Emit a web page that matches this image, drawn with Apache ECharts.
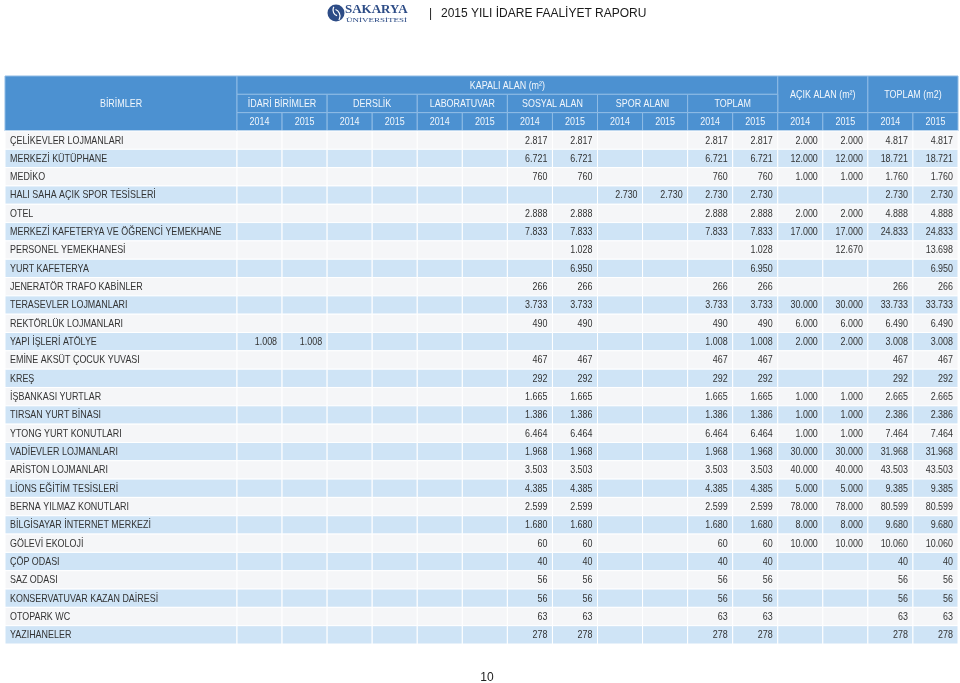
<!DOCTYPE html>
<html>
<head>
<meta charset="utf-8">
<script src="https://cdn.jsdelivr.net/npm/echarts@6.0.0/dist/echarts.min.js"></script>
<style>
html, body { margin: 0; padding: 0; background: #fff; }
#main { width: 960px; height: 683px; }
</style>
</head>
<body>
<div id="main"></div>
<script>
// satir adlari
const rowNames = [
  'ÇELİKEVLER LOJMANLARI', 'MERKEZİ KÜTÜPHANE', 'MEDİKO', 'HALI SAHA AÇIK SPOR TESİSLERİ', 'OTEL',
  'MERKEZİ KAFETERYA VE ÖĞRENCİ YEMEKHANE', 'PERSONEL YEMEKHANESİ', 'YURT KAFETERYA',
  'JENERATÖR TRAFO KABİNLER', 'TERASEVLER LOJMANLARI', 'REKTÖRLÜK LOJMANLARI', 'YAPI İŞLERİ ATÖLYE',
  'EMİNE AKSÜT ÇOCUK YUVASI', 'KREŞ', 'İŞBANKASI YURTLAR', 'TIRSAN YURT BİNASI', 'YTONG YURT KONUTLARI',
  'VADİEVLER LOJMANLARI', 'ARİSTON LOJMANLARI', 'LİONS EĞİTİM TESİSLERİ', 'BERNA YILMAZ KONUTLARI',
  'BİLGİSAYAR İNTERNET MERKEZİ', 'GÖLEVİ EKOLOJİ', 'ÇÖP ODASI', 'SAZ ODASI', 'KONSERVATUVAR KAZAN DAİRESİ',
  'OTOPARK WC', 'YAZIHANELER'
];
const groupNames = ['İDARİ BİRİMLER', 'DERSLİK', 'LABORATUVAR', 'SOSYAL ALAN', 'SPOR ALANI', 'TOPLAM'];
const years = ['2014', '2015'];

const idari2014 = [null, null, null, null, null, null, null, null, null, null, null, 1008, null, null, null, null, null, null, null, null, null, null, null, null, null, null, null, null];
const idari2015 = [null, null, null, null, null, null, null, null, null, null, null, 1008, null, null, null, null, null, null, null, null, null, null, null, null, null, null, null, null];
const derslik2014 = [null, null, null, null, null, null, null, null, null, null, null, null, null, null, null, null, null, null, null, null, null, null, null, null, null, null, null, null];
const derslik2015 = [null, null, null, null, null, null, null, null, null, null, null, null, null, null, null, null, null, null, null, null, null, null, null, null, null, null, null, null];
const lab2014 = [null, null, null, null, null, null, null, null, null, null, null, null, null, null, null, null, null, null, null, null, null, null, null, null, null, null, null, null];
const lab2015 = [null, null, null, null, null, null, null, null, null, null, null, null, null, null, null, null, null, null, null, null, null, null, null, null, null, null, null, null];
const sosyal2014 = [2817, 6721, 760, null, 2888, 7833, null, null, 266, 3733, 490, null, 467, 292, 1665, 1386, 6464, 1968, 3503, 4385, 2599, 1680, 60, 40, 56, 56, 63, 278];
const sosyal2015 = [2817, 6721, 760, null, 2888, 7833, 1028, 6950, 266, 3733, 490, null, 467, 292, 1665, 1386, 6464, 1968, 3503, 4385, 2599, 1680, 60, 40, 56, 56, 63, 278];
const spor2014 = [null, null, null, 2730, null, null, null, null, null, null, null, null, null, null, null, null, null, null, null, null, null, null, null, null, null, null, null, null];
const spor2015 = [null, null, null, 2730, null, null, null, null, null, null, null, null, null, null, null, null, null, null, null, null, null, null, null, null, null, null, null, null];
const kapali2014 = [2817, 6721, 760, 2730, 2888, 7833, null, null, 266, 3733, 490, 1008, 467, 292, 1665, 1386, 6464, 1968, 3503, 4385, 2599, 1680, 60, 40, 56, 56, 63, 278];
const kapali2015 = [2817, 6721, 760, 2730, 2888, 7833, 1028, 6950, 266, 3733, 490, 1008, 467, 292, 1665, 1386, 6464, 1968, 3503, 4385, 2599, 1680, 60, 40, 56, 56, 63, 278];
const acik2014 = [2000, 12000, 1000, null, 2000, 17000, null, null, null, 30000, 6000, 2000, null, null, 1000, 1000, 1000, 30000, 40000, 5000, 78000, 8000, 10000, null, null, null, null, null];
const acik2015 = [2000, 12000, 1000, null, 2000, 17000, 12670, null, null, 30000, 6000, 2000, null, null, 1000, 1000, 1000, 30000, 40000, 5000, 78000, 8000, 10000, null, null, null, null, null];
const toplam2014 = [4817, 18721, 1760, 2730, 4888, 24833, null, null, 266, 33733, 6490, 3008, 467, 292, 2665, 2386, 7464, 31968, 43503, 9385, 80599, 9680, 10060, 40, 56, 56, 63, 278];
const toplam2015 = [4817, 18721, 1760, 2730, 4888, 24833, 13698, 6950, 266, 33733, 6490, 3008, 467, 292, 2665, 2386, 7464, 31968, 43503, 9385, 80599, 9680, 10060, 40, 56, 56, 63, 278];

const columns = [idari2014, idari2015, derslik2014, derslik2015, lab2014, lab2015, sosyal2014, sosyal2015,
  spor2014, spor2015, kapali2014, kapali2015, acik2014, acik2015, toplam2014, toplam2015];
const colCats = ['idari2014', 'idari2015', 'derslik2014', 'derslik2015', 'lab2014', 'lab2015', 'sosyal2014', 'sosyal2015',
  'spor2014', 'spor2015', 'kapali2014', 'kapali2015', 'acik2014', 'acik2015', 'toplam2014', 'toplam2015'];

const HEAD_BG = '#4c91d1', HEAD_LINE = '#8ebbe5', HEAD_TEXT = '#f2f7fc';
const ROW_LIGHT = '#f5f6f8', ROW_BLUE = '#cfe4f6', TEXT = '#333';
const FONT = '"Liberation Sans", Arial, sans-serif';
const SQUEEZE = 0.85;

function fmt(v) {
  if (v == null) return '';
  return String(v).replace(/\B(?=(\d{3})+(?!\d))/g, '.');
}

// kategori eksenleri: 3 baslik satiri + veri satirlari
const rowCats = ['H1', 'H2', 'H3'].concat(rowNames);

// hucreler
const labelCells = [{ col: 0, row: 0, cs: 1, rs: 3, text: 'BİRİMLER', head: true }];
rowNames.forEach((n, r) => labelCells.push({ col: 0, row: r + 3, cs: 1, rs: 1, text: n }));

const tableCells = [
  { col: 0, row: 0, cs: 12, rs: 1, text: 'KAPALI ALAN (m²)', head: true },
  { col: 12, row: 0, cs: 2, rs: 2, text: 'AÇIK ALAN (m²)', head: true },
  { col: 14, row: 0, cs: 2, rs: 2, text: 'TOPLAM (m2)', head: true }
];
groupNames.forEach((g, i) => tableCells.push({ col: i * 2, row: 1, cs: 2, rs: 1, text: g, head: true }));
colCats.forEach((c, i) => tableCells.push({ col: i, row: 2, cs: 1, rs: 1, text: years[i % 2], head: true }));
columns.forEach((arr, c) => {
  arr.forEach((v, r) => tableCells.push({ col: c, row: r + 3, cs: 1, rs: 1, text: fmt(v) }));
});

function makeRender(cells, textAlign) {
  return function (params, api) {
    const d = cells[params.dataIndex];
    const c = api.coord([d.col, d.row]);
    const s = api.size([1, 1]);
    const x = c[0] - s[0] / 2, y = c[1] - s[1] / 2;
    const w = s[0] * d.cs, h = s[1] * d.rs;
    let fill, stroke;
    if (d.head) {
      fill = HEAD_BG; stroke = HEAD_LINE;
    } else {
      fill = (d.row - 3) % 2 === 0 ? ROW_LIGHT : ROW_BLUE; stroke = '#ffffff';
    }
    let tx, align;
    if (d.head) { tx = x + w / 2; align = 'center'; }
    else if (textAlign === 'left') { tx = x + 5; align = 'left'; }
    else { tx = x + w - 5; align = 'right'; }
    return {
      type: 'group',
      children: [
        { type: 'rect', shape: { x: x, y: y, width: w, height: h }, style: { fill: fill, stroke: stroke, lineWidth: 1 } },
        {
          type: 'text', x: tx, y: y + h / 2 + 0.5, scaleX: SQUEEZE,
          style: {
            text: d.text, fill: d.head ? HEAD_TEXT : TEXT, fontSize: 10.5, fontFamily: FONT,
            align: align, textAlign: align, verticalAlign: 'middle', textVerticalAlign: 'middle'
          }
        }
      ]
    };
  };
}

const chart = echarts.init(document.getElementById('main'));
chart.setOption({
  animation: false,
  backgroundColor: '#ffffff',
  grid: [
    { left: 5, top: 76, width: 232, height: 568 },
    { left: 237, top: 76, width: 721, height: 568 }
  ],
  xAxis: [
    { type: 'category', gridIndex: 0, data: ['BİRİMLER'], show: false },
    { type: 'category', gridIndex: 1, data: colCats, show: false }
  ],
  yAxis: [
    { type: 'category', gridIndex: 0, data: rowCats, inverse: true, show: false },
    { type: 'category', gridIndex: 1, data: rowCats, inverse: true, show: false }
  ],
  graphic: [
    // logo
    { type: 'circle', shape: { cx: 336, cy: 13, r: 8.5 }, style: { fill: '#2d4c86' } },
    { type: 'arc', shape: { cx: 333, cy: 16, r: 7, startAngle: -1.2, endAngle: 0.6 }, style: { stroke: '#ffffff', lineWidth: 1.2, fill: null } },
    { type: 'arc', shape: { cx: 339, cy: 10, r: 6, startAngle: 1.9, endAngle: 3.7 }, style: { stroke: '#ffffff', lineWidth: 1.2, fill: null } },
    { type: 'text', x: 345, y: 10, style: { text: 'SAKARYA', fill: '#2d4c86', font: 'bold 13px "Liberation Serif", "DejaVu Serif", serif', verticalAlign: 'middle', textVerticalAlign: 'middle' } },
    { type: 'text', x: 346, y: 20, scaleX: 1.5, style: { text: 'ÜNİVERSİTESİ', fill: '#2d4c86', font: '6px "Liberation Serif", "DejaVu Serif", serif', verticalAlign: 'middle', textVerticalAlign: 'middle' } },
    { type: 'text', x: 429, y: 14, style: { text: '|', fill: '#222', font: '12px ' + FONT, verticalAlign: 'middle', textVerticalAlign: 'middle' } },
    { type: 'text', x: 441, y: 14, style: { text: '2015 YILI İDARE FAALİYET RAPORU', fill: '#1a1a1a', font: '12px ' + FONT, verticalAlign: 'middle', textVerticalAlign: 'middle' } },
    { type: 'text', x: 487, y: 678, style: { text: '10', fill: '#222', font: '12px ' + FONT, align: 'center', textAlign: 'center', verticalAlign: 'middle', textVerticalAlign: 'middle' } }
  ],
  series: [
    {
      type: 'custom', xAxisIndex: 0, yAxisIndex: 0, clip: false,
      encode: { x: 0, y: 1 },
      data: labelCells.map(d => [d.col, d.row]),
      renderItem: makeRender(labelCells, 'left')
    },
    {
      type: 'custom', xAxisIndex: 1, yAxisIndex: 1, clip: false,
      encode: { x: 0, y: 1 },
      data: tableCells.map(d => [d.col, d.row]),
      renderItem: makeRender(tableCells, 'right')
    }
  ]
});
</script>
</body>
</html>
